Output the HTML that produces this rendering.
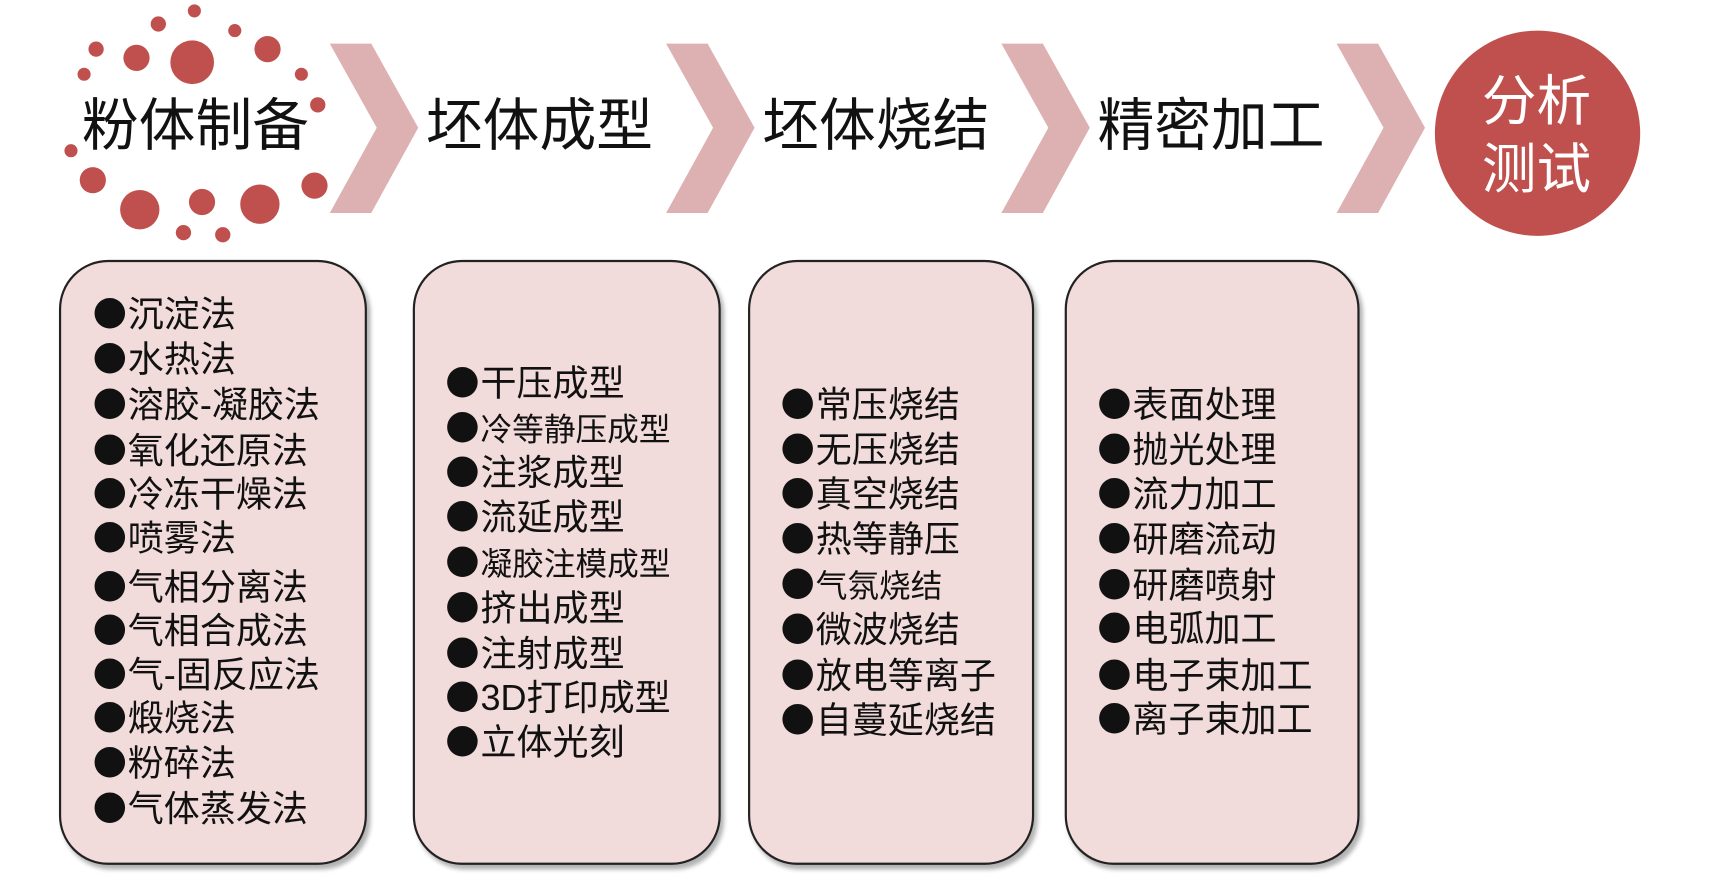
<!DOCTYPE html>
<html><head><meta charset="utf-8"><style>
html,body{margin:0;padding:0;background:#fff;width:1712px;height:874px;overflow:hidden}
#w{position:absolute;left:0;top:0;width:1570px;height:800px;transform:scale(1.092);transform-origin:0 0;font-family:"Liberation Sans","Noto Sans CJK SC",sans-serif}
.t{position:absolute;font-size:52px;color:#111;line-height:1;white-space:nowrap}
.box{position:absolute;top:238px;height:550px;border:2px solid #222;border-radius:45px;background:#f2dcdb;box-shadow:3px 4px 4px rgba(0,0,0,.3)}
.l{position:absolute;font-size:33px;line-height:1;color:#111;white-space:nowrap;transform:translateY(-50%)}
.l b{font-family:"Noto Sans CJK SC",sans-serif;font-weight:normal;font-size:31px;display:inline-block;width:31px;margin-right:1px}
.s{font-size:29px}
</style></head><body><div id="w">
<svg width="1570" height="800" style="position:absolute;left:0;top:0">
<g fill="#c0504d">
<circle cx="176" cy="57" r="20"/><circle cx="125" cy="53" r="12"/><circle cx="245" cy="45" r="12"/>
<circle cx="88" cy="45" r="7"/><circle cx="145" cy="22" r="7"/><circle cx="178" cy="10" r="6"/>
<circle cx="215" cy="28" r="6"/><circle cx="77" cy="68" r="6"/><circle cx="276" cy="68" r="6"/>
<circle cx="291" cy="96" r="7"/><circle cx="65" cy="138" r="6"/><circle cx="85" cy="165" r="12"/>
<circle cx="128" cy="192" r="18"/><circle cx="185" cy="185" r="12"/><circle cx="238" cy="187" r="18"/>
<circle cx="288" cy="170" r="12"/><circle cx="168" cy="213" r="7"/><circle cx="204" cy="215" r="7"/>
<circle cx="1408" cy="122" r="94"/>
</g>
<g fill="#ddb1b1">
<polygon points="302,40 340,40 383,117 340,195 302,195 345,117"/>
<polygon points="610,40 648,40 691,117 648,195 610,195 653,117"/>
<polygon points="917,40 955,40 998,117 955,195 917,195 960,117"/>
<polygon points="1224,40 1262,40 1305,117 1262,195 1224,195 1267,117"/>
</g>
</svg>
<div class="t" style="left:75px;top:90px">粉体制备</div>
<div class="t" style="left:390px;top:90px">坯体成型</div>
<div class="t" style="left:698px;top:90px">坯体烧结</div>
<div class="t" style="left:1005px;top:90px">精密加工</div>
<div class="t" style="left:1357px;top:62px;color:#fff;font-size:50px;line-height:62px">分析<br>测试</div>
<div class="box" style="left:54px;width:278px"></div>
<div class="box" style="left:378px;width:278px"></div>
<div class="box" style="left:685px;width:258px"></div>
<div class="box" style="left:975px;width:266px"></div>
<div class="l" style="left:85px;top:287px"><b>●</b>沉淀法</div>
<div class="l" style="left:85px;top:328px"><b>●</b>水热法</div>
<div class="l" style="left:85px;top:370px"><b>●</b>溶胶-凝胶法</div>
<div class="l" style="left:85px;top:412px"><b>●</b>氧化还原法</div>
<div class="l" style="left:85px;top:452px"><b>●</b>冷冻干燥法</div>
<div class="l" style="left:85px;top:492px"><b>●</b>喷雾法</div>
<div class="l" style="left:85px;top:537px"><b>●</b>气相分离法</div>
<div class="l" style="left:85px;top:577px"><b>●</b>气相合成法</div>
<div class="l" style="left:85px;top:617px"><b>●</b>气-固反应法</div>
<div class="l" style="left:85px;top:657px"><b>●</b>煅烧法</div>
<div class="l" style="left:85px;top:698px"><b>●</b>粉碎法</div>
<div class="l" style="left:85px;top:740px"><b>●</b>气体蒸发法</div>
<div class="l" style="left:408px;top:350px"><b>●</b>干压成型</div>
<div class="l s" style="left:408px;top:392px"><b>●</b>冷等静压成型</div>
<div class="l" style="left:408px;top:432px"><b>●</b>注浆成型</div>
<div class="l" style="left:408px;top:473px"><b>●</b>流延成型</div>
<div class="l s" style="left:408px;top:515px"><b>●</b>凝胶注模成型</div>
<div class="l" style="left:408px;top:556px"><b>●</b>挤出成型</div>
<div class="l" style="left:408px;top:598px"><b>●</b>注射成型</div>
<div class="l" style="left:408px;top:638px"><b>●</b>3D打印成型</div>
<div class="l" style="left:408px;top:679px"><b>●</b>立体光刻</div>
<div class="l" style="left:715px;top:370px"><b>●</b>常压烧结</div>
<div class="l" style="left:715px;top:411px"><b>●</b>无压烧结</div>
<div class="l" style="left:715px;top:452px"><b>●</b>真空烧结</div>
<div class="l" style="left:715px;top:493px"><b>●</b>热等静压</div>
<div class="l s" style="left:715px;top:535px"><b>●</b>气氛烧结</div>
<div class="l" style="left:715px;top:576px"><b>●</b>微波烧结</div>
<div class="l" style="left:715px;top:618px"><b>●</b>放电等离子</div>
<div class="l" style="left:715px;top:659px"><b>●</b>自蔓延烧结</div>
<div class="l" style="left:1005px;top:370px"><b>●</b>表面处理</div>
<div class="l" style="left:1005px;top:411px"><b>●</b>抛光处理</div>
<div class="l" style="left:1005px;top:452px"><b>●</b>流力加工</div>
<div class="l" style="left:1005px;top:493px"><b>●</b>研磨流动</div>
<div class="l" style="left:1005px;top:535px"><b>●</b>研磨喷射</div>
<div class="l" style="left:1005px;top:575px"><b>●</b>电弧加工</div>
<div class="l" style="left:1005px;top:618px"><b>●</b>电子束加工</div>
<div class="l" style="left:1005px;top:658px"><b>●</b>离子束加工</div>
</div></body></html>
